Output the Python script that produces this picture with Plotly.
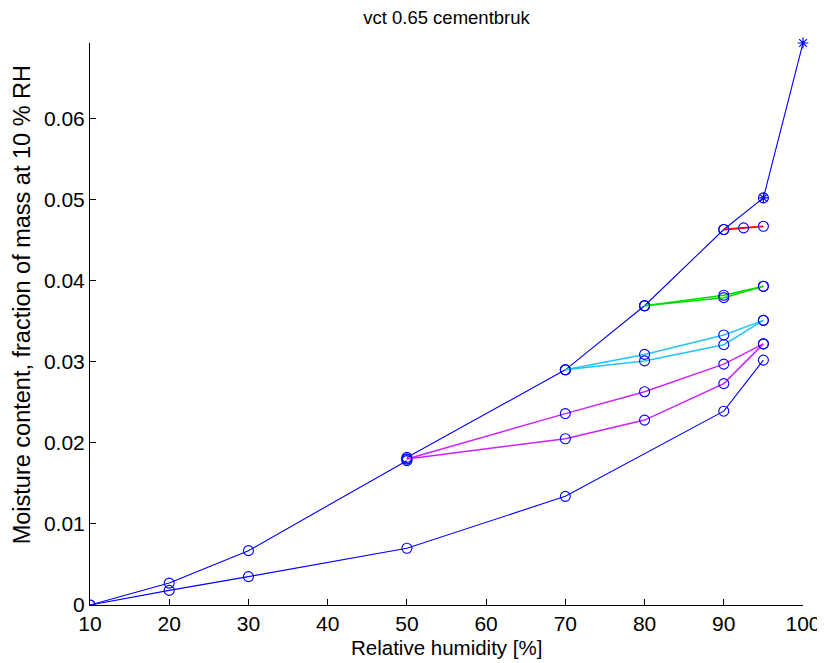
import plotly.graph_objects as go

# ---- data ----
rh_upper_a = [10, 20, 30, 50]
mc_upper_a = [0.0, 0.0027, 0.0067, 0.0178]
rh_upper_b = [50, 70, 80, 90, 95]
mc_upper_b = [0.0182, 0.0290, 0.0369, 0.0463, 0.0502]

rh_lower = [10, 20, 30, 50, 70, 90, 95]
mc_lower = [0.0, 0.0018, 0.0035, 0.0070, 0.0134, 0.0239, 0.0302]

rh_mag = [50, 70, 80, 90, 95]
mc_mag_a = [0.0180, 0.0236, 0.0263, 0.0297, 0.0322]
mc_mag_b = [0.0180, 0.0205, 0.0228, 0.0273, 0.0322]

rh_cyan = [70, 80, 90, 95]
mc_cyan_a = [0.0290, 0.0309, 0.0333, 0.0351]
mc_cyan_b = [0.0290, 0.0301, 0.0321, 0.0351]

rh_green = [80, 90, 95]
mc_green_a = [0.0369, 0.0382, 0.0393]
mc_green_b = [0.0369, 0.0379, 0.0393]

rh_red = [90, 92.5, 95]
mc_red = [0.0463, 0.0465, 0.0467]

rh_star = [95, 100]
mc_star = [0.0502, 0.0693]

x_ticks = [10, 20, 30, 40, 50, 60, 70, 80, 90, 100]
y_ticks = [0, 0.01, 0.02, 0.03, 0.04, 0.05, 0.06]
y_tick_labels = ["0", "0.01", "0.02", "0.03", "0.04", "0.05", "0.06"]

TITLE = "vct 0.65 cementbruk"
X_TITLE = "Relative humidity [%]"
Y_TITLE = "Moisture content, fraction of mass at 10 % RH"

BLUE = "#0000ff"
FONT = "Liberation Sans, Arial, Helvetica, sans-serif"

circ = dict(symbol="circle-open", size=10, color=BLUE, line=dict(width=1.1, color=BLUE))

fig = go.Figure()

def add(x, y, col, width=1.2):
    fig.add_trace(go.Scatter(x=x, y=y, mode="lines+markers",
                             line=dict(color=col, width=width),
                             marker=circ, showlegend=False, hoverinfo="x+y"))

add(rh_lower, mc_lower, BLUE, 1.1)
add(rh_upper_a, mc_upper_a, BLUE, 1.1)
add(rh_upper_b, mc_upper_b, BLUE, 1.1)
add(rh_mag, mc_mag_a, "#cc22ff", 1.5)
add(rh_mag, mc_mag_b, "#cc22ff", 1.5)
add(rh_cyan, mc_cyan_a, "#22c4f8", 1.5)
add(rh_cyan, mc_cyan_b, "#22c4f8", 1.5)
add(rh_green, mc_green_a, "#00dd00", 1.5)
add(rh_green, mc_green_b, "#00dd00", 1.5)
add(rh_red, mc_red, "#ff0000", 1.8)

fig.add_trace(go.Scatter(x=rh_star, y=mc_star, mode="lines+markers",
                         line=dict(color=BLUE, width=1.1),
                         marker=dict(symbol="asterisk-open", size=9, color=BLUE,
                                     line=dict(width=1.2, color=BLUE)),
                         showlegend=False, cliponaxis=False))

# the page body adds an 8px offset; margins compensate for it
fig.update_layout(
    width=825, height=663,
    paper_bgcolor="white", plot_bgcolor="white",
    margin=dict(l=82, r=30, t=35, b=66, autoexpand=False),
    font=dict(family=FONT, size=21, color="black"),
    title=dict(text=TITLE, x=0.5315, xanchor="center", xref="container",
               y=1 - 3 / 663, yanchor="top", yref="container", pad=dict(t=0),
               font=dict(family=FONT, size=18.5, color="black")),
    annotations=[
        dict(text=X_TITLE, xref="paper", yref="paper", x=0.5, y=-0.0765,
             xanchor="center", yanchor="middle", showarrow=False,
             font=dict(family=FONT, size=20.5, color="black")),
        dict(text=Y_TITLE, xref="paper", yref="paper", x=-0.0954, y=0.535,
             xanchor="center", yanchor="middle", showarrow=False, textangle=-90,
             font=dict(family=FONT, size=23.5, color="black")),
    ],
)
fig.update_xaxes(range=[10, 100], tickvals=x_ticks, ticktext=[str(v) for v in x_ticks],
                 showgrid=False, zeroline=False, showline=True, linecolor="black",
                 linewidth=1, ticks="inside", ticklen=6, tickcolor="black",
                 tickfont=dict(size=21), automargin=False)
fig.update_yaxes(range=[0, 0.0693], tickvals=y_ticks, ticktext=y_tick_labels,
                 showgrid=False, zeroline=False, showline=True, linecolor="black",
                 linewidth=1, ticks="inside", ticklen=6, tickcolor="black",
                 tickfont=dict(size=21), automargin=False)

fig.write_html("out.html")
